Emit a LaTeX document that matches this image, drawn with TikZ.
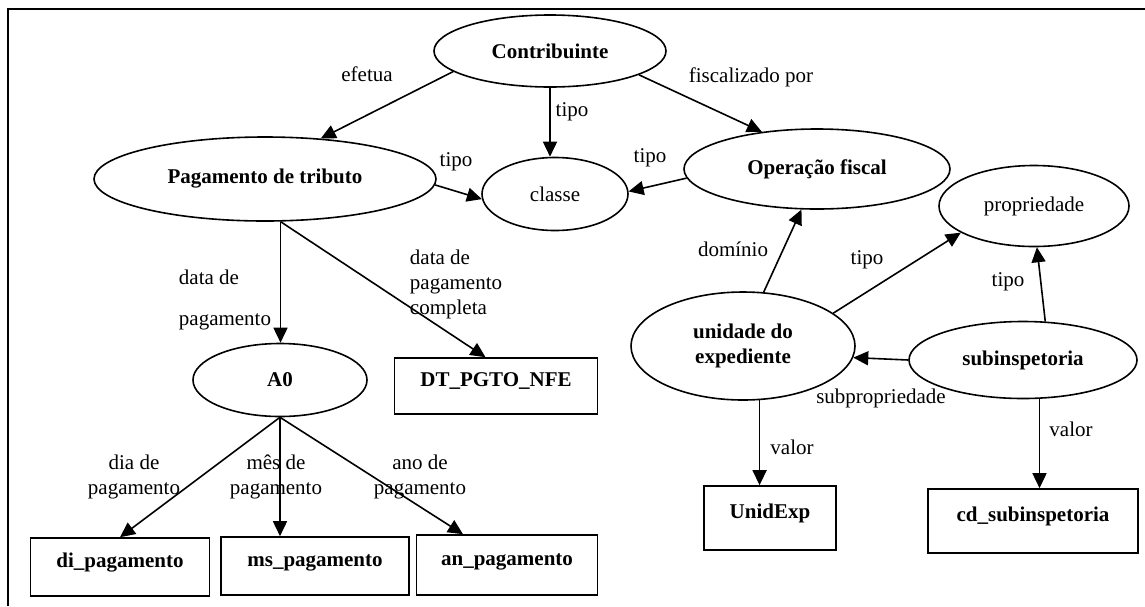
\documentclass[tikz,border=0pt]{standalone}
\usepackage{fontspec}
\setmainfont{Liberation Serif}
\usetikzlibrary{arrows.meta, shapes.geometric}

\begin{document}
\begin{tikzpicture}[x=1pt, y=-1pt,
        conceito/.style={ellipse, draw, line width=1.6pt, inner sep=0pt, align=center,
            font=\fontsize{21pt}{25pt}\selectfont},
        termo/.style={rectangle, draw, line width=1.6pt, inner sep=0pt,
            text height=14.5pt, text depth=14.5pt, font=\fontsize{21pt}{25pt}\selectfont\bfseries},
        rotulo/.style={inner sep=0pt, font=\fontsize{21pt}{25pt}\selectfont},
        rel/.style={line width=1.6pt, -{Triangle[length=15pt, width=14pt]}}
    ]
        \useasboundingbox (0,0) rectangle (1145,606);
        % moldura
        \draw[line width=2pt] (8,606) -- (8,9) -- (1145,9);

        % conceitos
        \node[conceito, minimum width=232pt, minimum height=72pt, font=\fontsize{21pt}{25pt}\selectfont\bfseries] (contrib) at (550,51) {Contribuinte};
        \node[conceito, minimum width=342pt, minimum height=84pt, font=\fontsize{21pt}{25pt}\selectfont\bfseries] (pagto) at (265,179) {Pagamento de tributo};
        \node[conceito, minimum width=146pt, minimum height=73pt] (classe) at (555,194) {classe};
        \node[conceito, minimum width=266pt, minimum height=80pt, font=\fontsize{21pt}{25pt}\selectfont\bfseries] (opfiscal) at (817,169) {Operação fiscal};
        \node[conceito, minimum width=190pt, minimum height=81pt] (propr) at (1034,206) {propriedade};
        \node[conceito, minimum width=224pt, minimum height=108pt, font=\fontsize{21pt}{25pt}\selectfont\bfseries] (unid) at (743,346) {unidade do\\expediente};
        \node[conceito, minimum width=228pt, minimum height=77pt, font=\fontsize{21pt}{25pt}\selectfont\bfseries] (subinsp) at (1023,360) {subinspetoria};
        \node[conceito, minimum width=174pt, minimum height=73pt, font=\fontsize{21pt}{25pt}\selectfont\bfseries] (azero) at (280,380) {A0};

        % valores
        \node[termo, minimum width=203pt, minimum height=56pt] (dtpgto) at (496,386) {DT\_PGTO\_NFE};
        \node[termo, minimum width=179pt, minimum height=58pt] (dipag) at (120,567) {di\_pagamento};
        \node[termo, minimum width=188pt, minimum height=58pt] (mspag) at (315,566) {ms\_pagamento};
        \node[termo, minimum width=181pt, minimum height=60pt] (anpag) at (507,565) {an\_pagamento};
        \node[termo, minimum width=132pt, minimum height=64pt] (unidexp) at (770,518) {UnidExp};
        \node[termo, minimum width=210pt, minimum height=64pt] (cdsub) at (1033,521) {cd\_subinspetoria};

        % relacoes
        \draw[rel] (contrib.192) -- (pagto.36);
        \draw[rel] (contrib.south) -- (contrib.south |- classe.north);
        \draw[rel] (contrib.345) -- (opfiscal.146);
        \draw[rel] (pagto.358) -- (classe.184);
        \draw[rel] (opfiscal.184) -- (classe.2);
        \draw[rel] (pagto.290) -- (pagto.290 |- azero.north);
        \draw[rel] (pagto.290) -- (dtpgto.110);
        \draw[rel] (azero.south) -- (dipag.north);
        \draw[rel] (azero.south) -- (azero.south |- mspag.north);
        \draw[rel] (azero.south) -- (anpag.145);
        \draw[rel] (unid.69) -- (opfiscal.249);
        \draw[rel] (unid.20) -- (propr.200);
        \draw[rel] (subinsp.60) -- (propr.274);
        \draw[rel] (subinsp.west) -- (unid.354);
        \draw[rel] (unid.287) -- (unid.287 |- unidexp.north);
        \draw[rel] (subinsp.293) -- (subinsp.293 |- cdsub.north);

        % rotulos
        \node[rotulo] (lefetua) at (367,74) {efetua};
        \node[rotulo] (ltipoa) at (572,112) {tipo};
        \node[rotulo] (lfiscal) at (751,77) {fiscalizado por};
        \node[rotulo] (ltipob) at (456,162) {tipo};
        \node[rotulo] (ltipoc) at (650,158) {tipo};
        \node[rotulo, align=left] (ldata) at (225,300) {data de\\[16pt]pagamento};
        \node[rotulo, align=left] (ldatacomp) at (456,284) {data de\\pagamento\\completa};
        \node[rotulo, align=center] (ldia) at (134,477) {dia de\\pagamento};
        \node[rotulo, align=center] (lmes) at (276,477) {mês de\\pagamento};
        \node[rotulo, align=center] (lano) at (420,477) {ano de\\pagamento};
        \node[rotulo] (ldominio) at (733,249) {domínio};
        \node[rotulo] (ltipod) at (867,260) {tipo};
        \node[rotulo] (ltipoe) at (1008,282) {tipo};
        \node[rotulo] (lsubprop) at (881,398) {subpropriedade};
        \node[rotulo] (lvalora) at (792,447) {valor};
        \node[rotulo] (lvalorb) at (1071,429) {valor};
    \end{tikzpicture}
\end{document}
